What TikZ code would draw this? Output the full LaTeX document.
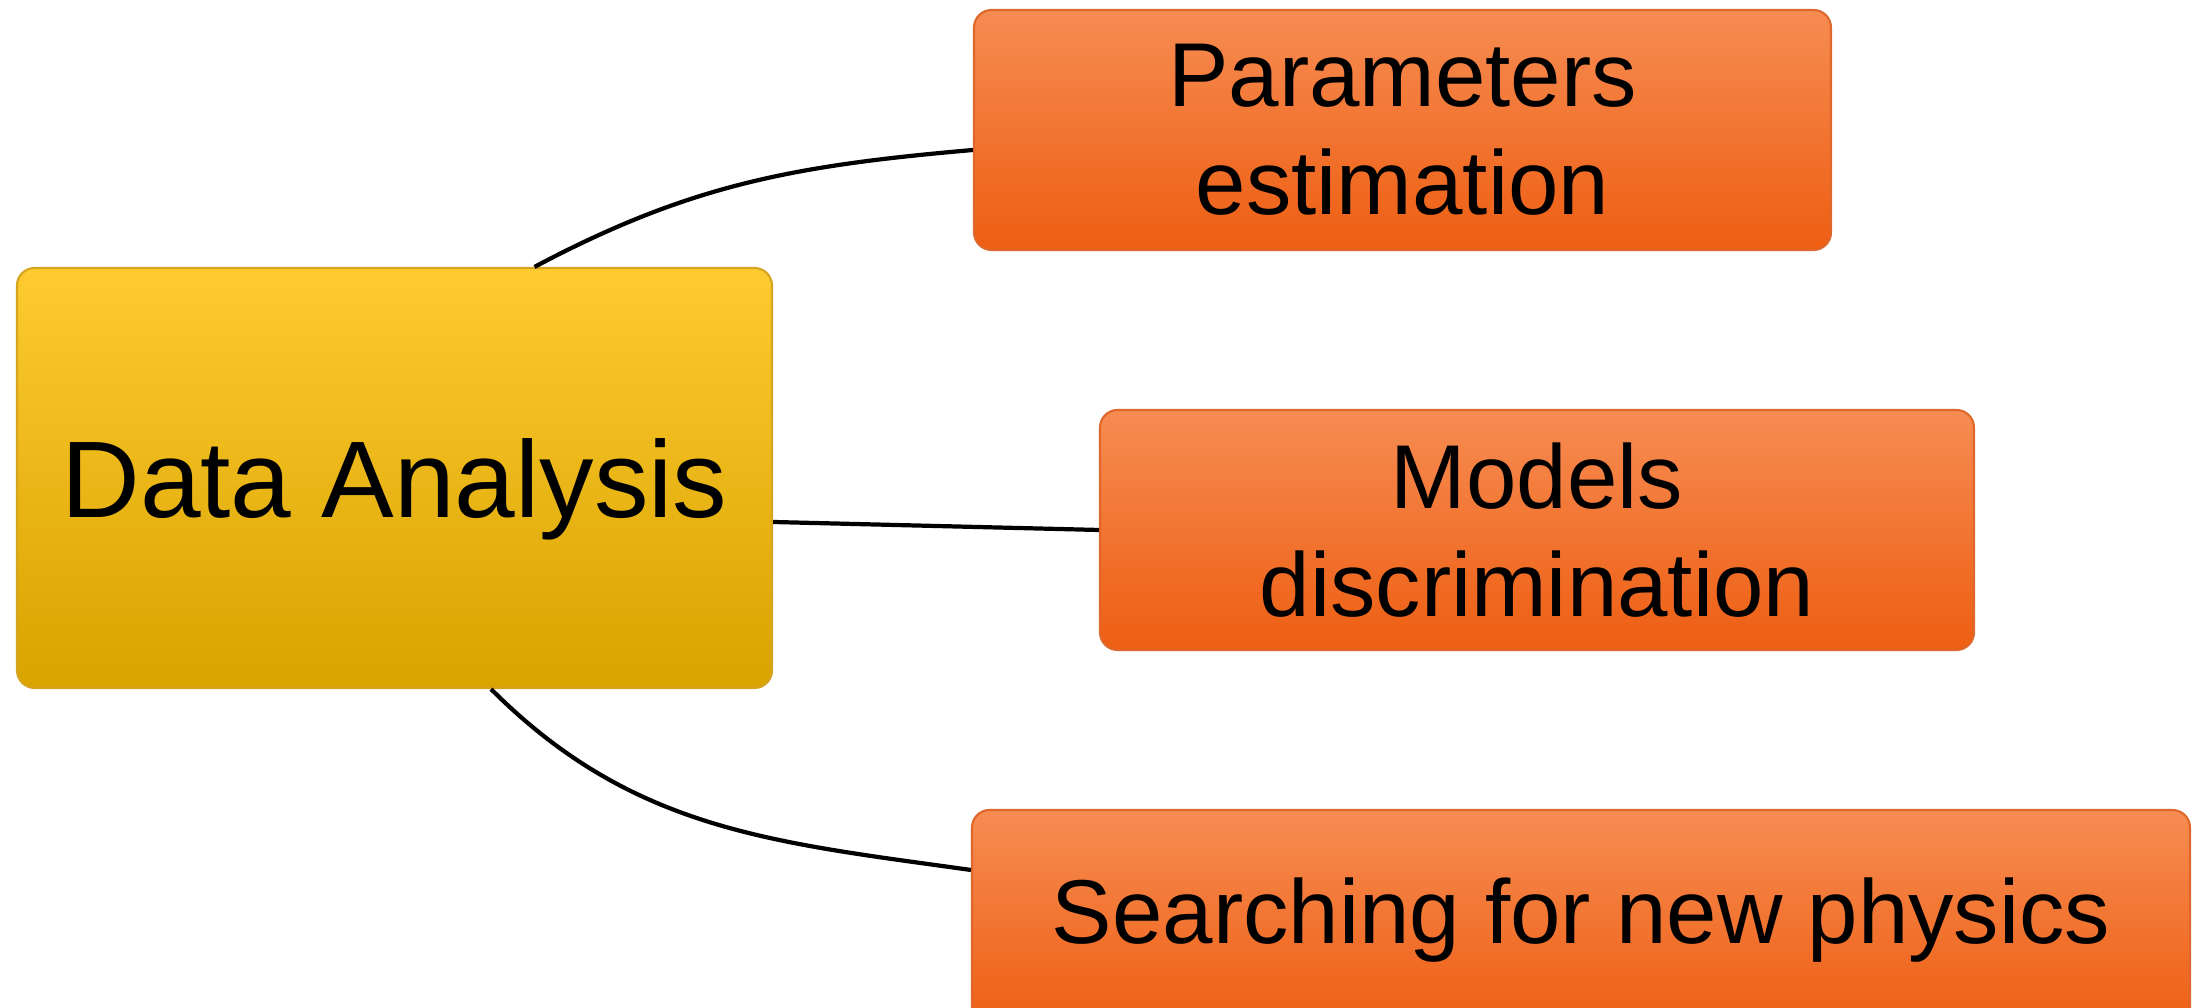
\documentclass[tikz,border=0pt]{standalone}
\usepackage{fontspec}
\setmainfont{Liberation Sans}
\usepackage{tikz}
\definecolor{goldtop}{RGB}{253,203,48}
\definecolor{goldbot}{RGB}{217,163,0}
\definecolor{goldline}{RGB}{214,164,30}
\definecolor{orangetop}{RGB}{246,140,82}
\definecolor{orangebot}{RGB}{238,94,18}
\definecolor{orangeline}{RGB}{222,104,44}

\begin{document}
\begin{tikzpicture} [topic/.style={draw=goldline, line width=0.6pt, rounded corners=5pt, top color=goldtop, bottom color=goldbot, minimum width=7.55cm, minimum height=4.2cm, inner sep=0pt, text depth=0pt, font=\fontsize{31}{37}\selectfont}, branch/.style={draw=orangeline, line width=0.6pt, rounded corners=5pt, top color=orangetop, bottom color=orangebot, inner sep=0pt, minimum height=2.4cm, align=center, font=\fontsize{25.8}{30.7}\selectfont}, link/.style={line width=1.2pt}]
\useasboundingbox (0,0) rectangle (21.93,10.08);
\node[topic](data) at (3.945,5.30){Data Analysis};
\node[branch, minimum width=8.57cm](par) at (14.025,8.78){Parameters\\estimation};
\node[branch, minimum width=8.74cm](mod) at (15.37,4.78){Models\\discrimination};
\node[branch, minimum width=12.18cm, minimum height=2.2cm](new) at (15.81,0.88){Searching for new physics};
\draw [link]([xshift=1.4cm]data.north) to[out=28, in=185] ([yshift=-0.2cm]par.west);
\draw [link]([yshift=-0.44cm]data.east) -- (mod.west);
\draw [link]([xshift=0.965cm]data.south) to[out=-45, in=172] ([yshift=0.5cm]new.west);
\end{tikzpicture}
\end{document}
